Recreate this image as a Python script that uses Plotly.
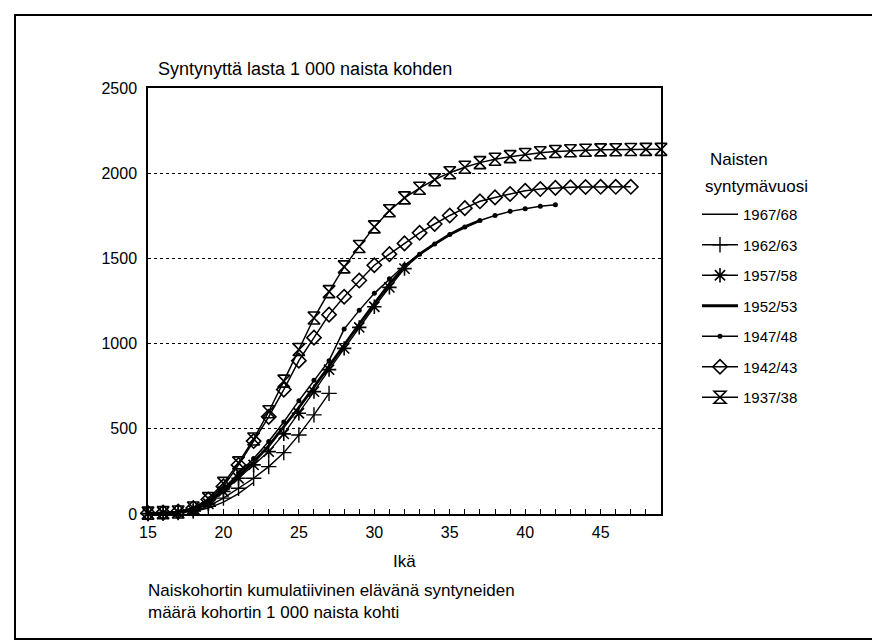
import plotly.graph_objects as go

# ---- data ----
series_names = ["1967/68", "1962/63", "1957/58", "1952/53", "1947/48", "1942/43", "1937/38"]
start_age = 15
s6768 = [2, 5, 9, 15, 35, 70, 120, 185]
s6263 = [2, 5, 9, 18, 45, 93, 151, 210, 278, 360, 464, 582, 708]
s5758 = [2, 5, 10, 20, 60, 132, 210, 288, 366, 470, 591, 718, 847, 972, 1095, 1216, 1330, 1440]
s5253 = [2, 5, 10, 25, 65, 140, 225, 305, 400, 510, 625, 745, 870, 995, 1115, 1235, 1350,
         1450, 1525, 1585, 1640, 1685, 1722]
s4748 = [3, 6, 12, 30, 75, 150, 240, 325, 425, 540, 665, 785, 900, 1085, 1195, 1295, 1380,
         1460, 1525, 1585, 1640, 1685, 1722, 1752, 1776, 1792, 1806, 1815]
s4243 = [5, 8, 15, 35, 85, 162, 288, 428, 570, 730, 900, 1035, 1170, 1275, 1370, 1460, 1525,
         1588, 1650, 1702, 1752, 1795, 1835, 1858, 1878, 1897, 1907, 1914, 1917, 1919, 1920,
         1920, 1920]
s3738 = [5, 8, 12, 35, 90, 180, 300, 440, 600, 780, 965, 1150, 1305, 1450, 1570, 1685, 1780,
         1855, 1912, 1962, 2003, 2035, 2062, 2082, 2097, 2110, 2120, 2127, 2132, 2135, 2137,
         2138, 2139, 2140, 2140]
series_values = [s6768, s6263, s5758, s5253, s4748, s4243, s3738]

x_tickvals = [15, 20, 25, 30, 35, 40, 45]
y_tickvals = [0, 500, 1000, 1500, 2000, 2500]

title_text = "Syntynyttä lasta 1 000 naista kohden"
x_title = "Ikä"
caption_lines = ["Naiskohortin kumulatiivinen elävänä syntyneiden",
                 "määrä kohortin 1 000 naista kohti"]
legend_title1 = "Naisten"
legend_title2 = "syntymävuosi"

# ---- styling ----
FONT = "Liberation Sans, Arial, Helvetica, sans-serif"
W, H = 880, 641
L, R, T, B = 140, 653, 80, 506


def pxx(x):
    return (x - L) / (R - L)


def pxy(y):
    return (B - y) / (B - T)


styles = {
    "1967/68": dict(mode="lines", line=dict(width=1.4), marker=None),
    "1962/63": dict(mode="lines+markers", line=dict(width=1.4),
                    marker=dict(symbol="cross-thin-open", size=11, line=dict(width=1.4))),
    "1957/58": dict(mode="lines+markers", line=dict(width=1.4),
                    marker=dict(symbol="asterisk-open", size=12, line=dict(width=1.6))),
    "1952/53": dict(mode="lines", line=dict(width=2.8), marker=None),
    "1947/48": dict(mode="lines+markers", line=dict(width=1.5),
                    marker=dict(symbol="circle", size=5)),
    "1942/43": dict(mode="lines+markers", line=dict(width=1.5),
                    marker=dict(symbol="diamond-open", size=11, line=dict(width=1.6))),
    "1937/38": dict(mode="lines+markers", line=dict(width=1.5),
                    marker=dict(symbol="hourglass-open", size=12, line=dict(width=1.6))),
}

fig = go.Figure()
for name, vals in zip(series_names, series_values):
    st = styles[name]
    ages = list(range(start_age, start_age + len(vals)))
    kw = dict(x=ages, y=vals, name=name, mode=st["mode"],
              line=dict(color="black", width=st["line"]["width"]),
              cliponaxis=False, legendgroup=name)
    if st["marker"] is not None:
        m = dict(st["marker"])
        m["color"] = "black"
        if "line" in m:
            m["line"] = dict(color="black", width=m["line"]["width"])
        kw["marker"] = m
    fig.add_trace(go.Scatter(**kw))

annotations = [
    dict(text=title_text, x=pxx(148), y=pxy(61), xanchor="left", yanchor="middle",
         font=dict(size=18)),
    dict(text=x_title, x=pxx(396.5), y=pxy(553), xanchor="center", yanchor="middle",
         font=dict(size=17)),
    dict(text="<br>".join(caption_lines), x=pxx(138), y=pxy(593), xanchor="left",
         yanchor="middle", align="left", font=dict(size=17)),
    dict(text=legend_title1, x=pxx(700), y=pxy(151), xanchor="left", yanchor="middle",
         font=dict(size=17)),
    dict(text=legend_title2, x=pxx(695), y=pxy(178), xanchor="left", yanchor="middle",
         font=dict(size=17)),
]
for a in annotations:
    a.update(xref="paper", yref="paper", showarrow=False)
    a["font"].update(color="black", family=FONT)

fig.update_layout(
    width=W, height=H,
    margin=dict(l=L, r=W - R, t=T, b=H - B, pad=0),
    paper_bgcolor="white", plot_bgcolor="white",
    font=dict(family=FONT, color="black", size=16),
    annotations=annotations,
    showlegend=True,
    legend=dict(x=pxx(689), y=pxy(190), xanchor="left", yanchor="top",
                font=dict(size=15, family=FONT, color="black"),
                bgcolor="rgba(0,0,0,0)", borderwidth=0,
                tracegroupgap=8, traceorder="grouped", itemwidth=36),
    shapes=[dict(type="rect", xref="paper", yref="paper",
                 x0=pxx(7), x1=pxx(871), y0=pxy(631), y1=pxy(7),
                 line=dict(color="black", width=2), fillcolor="rgba(0,0,0,0)",
                 layer="below")],
)

fig.update_xaxes(range=[15, 49], tickvals=x_tickvals, ticktext=[str(v) for v in x_tickvals],
                 showline=True, linecolor="black", linewidth=1.5, mirror=True,
                 ticks="inside", ticklen=5, tickwidth=1, tickcolor="black",
                 minor=dict(dtick=1, tick0=15, ticks="inside", ticklen=5, tickwidth=1,
                            tickcolor="black"),
                 showgrid=False, zeroline=False,
                 tickfont=dict(size=16, family=FONT, color="black"),
                 ticklabelstandoff=3)
fig.update_yaxes(range=[0, 2500], tickvals=y_tickvals, ticktext=[str(v) for v in y_tickvals],
                 showline=True, linecolor="black", linewidth=1.5, mirror=True,
                 ticks="", showgrid=True, gridcolor="black", gridwidth=1, griddash="dot",
                 zeroline=False,
                 tickfont=dict(size=16, family=FONT, color="black"),
                 ticklabelstandoff=6)

fig.write_html("out.html")
